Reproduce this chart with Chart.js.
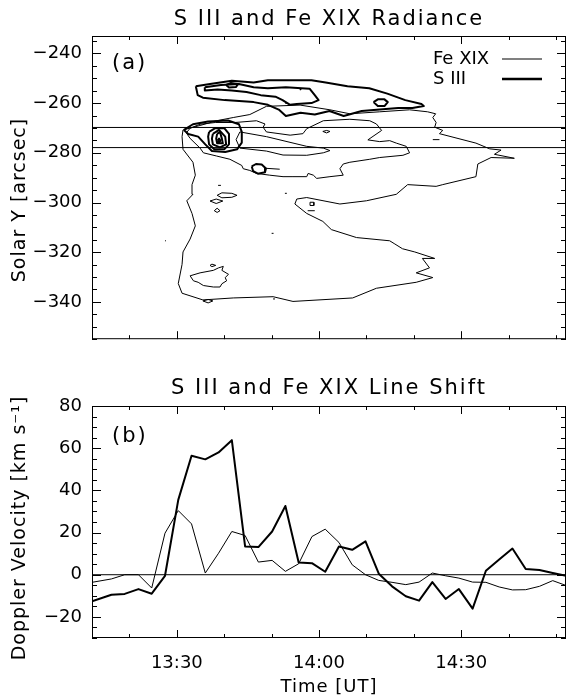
<!DOCTYPE html>
<html>
<head>
<meta charset="utf-8">
<script src="https://cdn.jsdelivr.net/npm/chart.js@4.4.1/dist/chart.umd.min.js"></script>
<style>
  html, body { margin: 0; padding: 0; background: #fff; }
  #wrap { position: relative; width: 567px; height: 700px; }
  canvas { position: absolute; left: 0; }
</style>
</head>
<body>
<div id="wrap">
  <canvas id="radiance" width="567" height="360" style="top:0"></canvas>
  <canvas id="lineShift" width="567" height="340" style="top:360px"></canvas>
</div>
<script>
// time is in minutes after 13:00 UT
const timeRange = [12.1, 112.1];
const solarYRange = [-355, -233];
const velocityRange = [-30, 80];

// panel (b): Doppler velocity, km/s
const times = [12.1, 16.2, 19.0, 21.9, 24.7, 27.5, 30.3, 33.1, 36.0, 38.8, 41.6, 44.4,
  47.2, 50.1, 52.9, 55.7, 58.5, 61.3, 64.2, 67.0, 69.8, 72.6, 75.4, 78.3,
  81.1, 83.9, 86.7, 89.5, 92.4, 95.2, 98.0, 100.8, 103.6, 106.5, 109.3, 112.1];
const sIIIVelocity = [-12.6, -9.5, -9.1, -6.8, -9.0, -0.5, 35.5, 56.4, 54.7, 58.0, 63.8, 13.4,
  13.1, 20.5, 32.6, 5.8, 5.5, 1.4, 13.4, 11.8, 15.8, 0.5, -5.5, -10.2,
  -12.3, -3.5, -11.5, -6.8, -16.1, 1.9, 7.2, 12.4, 2.7, 2.2, 0.8, -0.5];
const feXIXVelocity = [-3.6, -2.0, 0, 0, -6.3, 19.7, 30.4, 24.1, 0.8, 10.2, 20.5, 18.6,
  6.0, 6.8, 1.6, 5.2, 18.1, 21.6, 15.3, 4.7, 0, -2.7, -3.6, -4.7,
  -3.5, 0.8, -0.5, -1.6, -3.5, -3.6, -5.8, -7.2, -7.1, -5.5, -2.8, -5.1];

// panel (a): slit edges, arcsec
const slitLines = [-269.8, -277.9];

// panel (a): Fe XIX radiance contours, [time, solar Y]
const feContours = [
  [[31.3,-270.8],[34.9,-269.0],[38.4,-267.1],[41.9,-265.8],[45.4,-264.6],[48.9,-261.3],[56.0,-260.8],
   [62.3,-262.7],[66.5,-264.3],[72.8,-263.5],[79.1,-262.7],[82.9,-263.5],[84.6,-264.3],[84.0,-265.8],
   [84.7,-267.8],[84.4,-269.7],[86.1,-271.0],[85.4,-272.3],[93.1,-276.1],[96.0,-278.4],[98.4,-278.9],
   [97.0,-280.6],[101.2,-282.2],[96.3,-281.9],[93.5,-284.5],[93.1,-289.6],[86.1,-292.8],[84.7,-293.5],
   [78.7,-292.8],[76.3,-296.7],[70.0,-299.3],[64.4,-300.6],[57.4,-298.0],[55.3,-298.6],[54.9,-300.6],
   [57.4,-304.4],[60.8,-307.6],[62.6,-310.9],[67.9,-314.1],[74.9,-315.4],[76.0,-316.7],[77.6,-318.6],
   [80.2,-319.9],[84.4,-322.5],[81.8,-322.5],[83.3,-326.3],[80.5,-328.3],[84.0,-330.2],[80.5,-332.1],
   [72.1,-334.5],[67.1,-338.4],[54.5,-339.8],[50.3,-337.9],[41.9,-338.4],[35.5,-339.2],[31.1,-336.5],
   [30.3,-332.6],[31.1,-324.9],[31.3,-319.9],[32.8,-314.7],[33.9,-309.4],[33.2,-304.4],[32.1,-299.3],
   [33.4,-296.7],[33.2,-292.8],[33.9,-289.0],[33.4,-283.8],[31.3,-278.6],[31.1,-273.5],[31.3,-270.8]],
  [[46.8,-267.1],[48.6,-268.4],[48.2,-269.7],[48.9,-271.6],[53.9,-272.9],[56.6,-272.3],[57.4,-270.3],
   [60.9,-267.1],[66.5,-266.5],[70.7,-267.1],[72.1,-268.4],[73.2,-271.0],[70.3,-274.8],[72.8,-275.5],
   [74.9,-275.1],[76.3,-276.1],[78.4,-277.4],[79.1,-280.0],[77.7,-281.0],[72.8,-281.9],[70.7,-282.6],
   [66.5,-283.8],[65.1,-284.5],[64.4,-286.4],[65.1,-289.0],[62.3,-289.6],[59.5,-290.3],[58.8,-289.0],
   [57.7,-288.3],[57.4,-289.6],[54.5,-289.6],[52.4,-289.6],[49.6,-289.0],[46.8,-288.3],[45.4,-287.1],
   [44.0,-286.4],[43.7,-285.1],[41.2,-282.6],[38.4,-281.3],[35.6,-280.0],[34.9,-278.1],[32.8,-274.2],
   [32.0,-272.0],[32.8,-270.1],[34.9,-268.5],[38.1,-267.8],[42.3,-267.8],[46.8,-267.1]],
  [[43.3,-271.6],[48.9,-273.5],[57.4,-277.4],[60.9,-278.1],[62.3,-279.1],[60.9,-280.0],[57.4,-281.0],
   [52.4,-280.9],[48.9,-279.3],[43.3,-278.1],[42.5,-274.7],[43.3,-271.6]],
  [[32.8,-329.5],[34.9,-328.3],[37.7,-327.3],[38.8,-326.3],[39.8,-325.7],[39.5,-327.3],[40.9,-328.9],
   [40.2,-330.2],[40.5,-331.5],[39.5,-332.7],[39.1,-334.0],[37.7,-334.0],[35.6,-333.4],[34.5,-332.1],
   [33.5,-331.5],[32.8,-329.5]],
  [[37.0,-325.3],[37.4,-324.8],[38.2,-325.3],[37.4,-325.8],[37.0,-325.3]],
  [[38.5,-297.1],[39.5,-296.1],[41.6,-296.3],[42.7,-297.1],[41.6,-297.9],[39.5,-298.1],[38.5,-297.1]],
  [[37.0,-299.4],[38.3,-298.6],[39.7,-299.4],[38.3,-300.4],[37.0,-299.4]],
  [[37.9,-303.3],[38.5,-302.3],[39.1,-303.3],[38.5,-304.0],[37.9,-303.3]],
  [[38.7,-293.1],[39.3,-293.1]],
  [[58.1,-299.9],[58.9,-299.9],[58.9,-301.2],[58.1,-301.2],[58.1,-299.9]],
  [[57.6,-303.3],[59.1,-303.3]],
  [[52.8,-296.3],[53.2,-296.3]],
  [[50.0,-312.4],[50.4,-312.4]],
  [[27.5,-315.4],[27.7,-315.4]],
  [[60.8,-271.4],[61.6,-271.0],[62.3,-271.4],[61.6,-272.0],[60.8,-271.4]],
  [[84.0,-274.7],[85.4,-274.7]],
  [[35.5,-339.6],[36.6,-339.0],[37.6,-339.6],[36.6,-340.4],[35.5,-339.6]],
  [[50.3,-338.8],[50.7,-338.8]],
  [[48.5,-286.2],[51.7,-286.6]]
];

// panel (a): S III radiance contours, [time, solar Y]
const sIIIContours = [
  [[34.0,-253.2],[37.0,-252.3],[41.6,-251.0],[46.2,-251.7],[49.2,-250.8],[53.9,-250.8],[58.4,-250.8],
   [61.4,-251.7],[66.0,-253.2],[70.6,-254.0],[74.4,-256.2],[78.2,-258.8],[81.6,-260.4],[82.1,-261.2],
   [79.7,-262.0],[76.7,-262.0],[72.8,-262.6],[69.0,-263.2],[65.2,-265.2],[62.2,-263.2],[59.1,-264.6],
   [56.1,-263.9],[53.0,-265.2],[51.5,-262.6],[49.2,-260.7],[46.2,-259.6],[40.1,-258.8],[35.5,-257.8],
   [34.4,-256.8],[34.0,-253.2]],
  [[35.9,-253.6],[39.3,-252.7],[43.1,-252.3],[46.2,-253.6],[49.2,-254.0],[53.0,-253.6],[58.0,-254.2],
   [59.1,-256.8],[59.9,-258.8],[58.4,-260.0],[55.3,-260.4],[53.9,-260.7],[52.3,-258.8],[50.8,-257.4],
   [47.7,-256.8],[44.7,-255.5],[41.6,-254.9],[38.6,-254.5],[35.9,-254.9],[35.9,-253.6]],
  [[40.4,-252.7],[41.4,-251.9],[42.9,-252.3],[42.5,-253.5],[41.0,-253.7],[40.4,-252.7]],
  [[56.0,-254.3],[56.2,-254.7]],
  [[52.9,-260.0],[53.2,-260.0]],
  [[71.5,-259.6],[72.4,-258.5],[73.8,-258.5],[74.5,-259.6],[73.8,-261.2],[72.4,-261.2],[71.5,-259.6]],
  [[31.5,-270.8],[33.4,-268.5],[36.6,-267.4],[40.8,-267.0],[43.1,-268.5],[43.7,-271.6],[43.7,-275.9],
   [42.7,-278.6],[40.2,-279.7],[37.4,-279.3],[36.0,-276.6],[34.5,-273.5],[32.4,-272.4],[31.5,-270.8]],
  [[36.8,-271.6],[38.1,-270.1],[40.0,-270.1],[41.0,-272.4],[41.0,-276.6],[40.0,-278.6],[37.9,-278.6],
   [36.8,-276.6],[36.6,-273.5],[36.8,-271.6]],
  [[37.6,-272.4],[38.9,-270.8],[40.2,-273.5],[40.4,-276.6],[39.1,-277.8],[37.6,-276.6],[37.4,-274.3],[37.6,-272.4]],
  [[38.5,-272.4],[39.1,-271.6],[39.5,-274.3],[39.7,-276.2],[38.5,-276.2],[38.3,-274.3],[38.5,-272.4]],
  [[38.6,-275.1],[38.9,-274.3],[39.2,-275.1],[38.9,-275.9],[38.6,-275.1]],
  [[45.8,-285.5],[46.7,-284.5],[47.9,-284.7],[48.8,-286.3],[48.6,-287.8],[47.1,-288.4],[46.1,-287.4],[45.8,-285.5]]
];

Chart.defaults.font.family = '"DejaVu Sans", sans-serif';
Chart.defaults.color = '#000';

const minusSign = v => String(v).replace('-', '\u2212');
const clock = v => { const m = 13 * 60 + v; return Math.floor(m / 60) + ':' + String(m % 60).padStart(2, '0'); };

const lineSet = (pts, width) => ({
  data: pts.map(([x, y]) => ({x, y})),
  showLine: true, borderColor: '#000', borderWidth: width,
  pointRadius: 0, fill: false, tension: 0, borderJoinStyle: 'round'
});

// box with inward ticks on all four sides, IDL style
const frameTicks = {
  id: 'frameTicks',
  afterDatasetsDraw(chart, args, o) {
    const {ctx, chartArea: a} = chart;
    const x = chart.scales.x, y = chart.scales.y;
    ctx.save();
    ctx.strokeStyle = '#000';
    ctx.lineWidth = 1;
    ctx.strokeRect(a.left + 0.5, a.top + 0.5, a.right - a.left - 1, a.bottom - a.top - 1);
    ctx.beginPath();
    for (let v = Math.ceil(x.min / o.xMinor) * o.xMinor; v <= x.max; v += o.xMinor) {
      const p = Math.round(x.getPixelForValue(v)) + 0.5;
      const len = v % o.xMajor === 0 ? 8 : 4;
      ctx.moveTo(p, a.bottom); ctx.lineTo(p, a.bottom - len);
      ctx.moveTo(p, a.top); ctx.lineTo(p, a.top + len);
    }
    for (let v = Math.ceil(y.min / o.yMinor) * o.yMinor; v <= y.max; v += o.yMinor) {
      const p = Math.round(y.getPixelForValue(v)) + 0.5;
      const len = v % o.yMajor === 0 ? 9 : 5;
      ctx.moveTo(a.left, p); ctx.lineTo(a.left + len, p);
      ctx.moveTo(a.right, p); ctx.lineTo(a.right - len, p);
    }
    ctx.stroke();
    ctx.restore();
  }
};

const annotate = {
  id: 'annotate',
  afterDraw(chart, args, o) {
    const {ctx, chartArea: a} = chart;
    const cx = (a.left + a.right) / 2;
    ctx.save();
    ctx.fillStyle = '#000';
    ctx.textBaseline = 'middle';
    ctx.font = '21px "DejaVu Sans"';
    ctx.letterSpacing = '2px';
    ctx.textAlign = 'center';
    ctx.fillText(o.title, cx, o.titleY);
    ctx.textAlign = 'left';
    ctx.fillText(o.tag, a.left + 20, o.tagY);
    ctx.font = '19px "DejaVu Sans"';
    ctx.letterSpacing = '1px';
    ctx.save();
    ctx.translate(20, o.yTitleY);
    ctx.rotate(-Math.PI / 2);
    ctx.textAlign = 'center';
    ctx.fillText(o.yTitle, 0, 0);
    ctx.restore();
    if (o.xTitle) {
      ctx.font = '18px "DejaVu Sans"';
      ctx.textAlign = 'center';
      ctx.fillText(o.xTitle, cx, o.xTitleY);
    }
    ctx.font = '18px "DejaVu Sans"';
    ctx.letterSpacing = '0px';
    (o.legend || []).forEach(item => {
      ctx.textAlign = 'left';
      ctx.fillText(item.label, a.right - 133, item.y);
      ctx.beginPath();
      ctx.strokeStyle = item.color;
      ctx.lineWidth = item.width;
      ctx.moveTo(a.right - 64, item.y);
      ctx.lineTo(a.right - 24, item.y);
      ctx.stroke();
    });
    ctx.restore();
  }
};

const tickFont = {size: 18};

new Chart(document.getElementById('radiance'), {
  type: 'scatter',
  data: {
    datasets: [
      ...feContours.map(c => lineSet(c, 1)),
      ...sIIIContours.map(c => lineSet(c, 2)),
      ...slitLines.map(v => lineSet([[timeRange[0], v], [timeRange[1], v]], 1))
    ]
  },
  options: {
    responsive: false,
    animation: false,
    events: [],
    layout: {padding: {top: 36, right: 1, bottom: 9, left: 0}},
    plugins: {
      legend: {display: false},
      tooltip: {enabled: false},
      frameTicks: {xMinor: 10, xMajor: 30, yMinor: 5, yMajor: 20},
      annotate: {
        title: 'S III and Fe XIX Radiance', titleY: 20,
        tag: '(a)', tagY: 64,
        yTitle: 'Solar Y [arcsec]', yTitleY: 200,
        legend: [
          {label: 'Fe XIX', y: 59, color: '#808080', width: 2},
          {label: 'S III', y: 79, color: '#000', width: 2.5}
        ]
      }
    },
    scales: {
      x: {
        type: 'linear', min: timeRange[0], max: timeRange[1],
        ticks: {display: false},
        grid: {display: false, drawTicks: false},
        border: {display: false},
        afterFit: s => { s.height = 0; }
      },
      y: {
        type: 'linear', min: solarYRange[0], max: solarYRange[1],
        ticks: {stepSize: 20, includeBounds: false, padding: 10, font: tickFont, callback: minusSign},
        grid: {display: false, drawTicks: false},
        border: {display: false},
        afterFit: s => { s.width = 92; }
      }
    }
  },
  plugins: [frameTicks, annotate]
});

new Chart(document.getElementById('lineShift'), {
  type: 'scatter',
  data: {
    datasets: [
      lineSet([[timeRange[0], 0], [timeRange[1], 0]], 1),
      lineSet(times.map((t, i) => [t, feXIXVelocity[i]]), 1),
      lineSet(times.map((t, i) => [t, sIIIVelocity[i]]), 2)
    ]
  },
  options: {
    responsive: false,
    animation: false,
    events: [],
    layout: {padding: {top: 46, right: 1, bottom: 0, left: 0}},
    plugins: {
      legend: {display: false},
      tooltip: {enabled: false},
      frameTicks: {xMinor: 10, xMajor: 30, yMinor: 5, yMajor: 20},
      annotate: {
        title: 'S III and Fe XIX Line Shift', titleY: 29,
        tag: '(b)', tagY: 77,
        yTitle: 'Doppler Velocity [km s\u207B\u00B9]', yTitleY: 168,
        xTitle: 'Time [UT]', xTitleY: 327
      }
    },
    scales: {
      x: {
        type: 'linear', min: timeRange[0], max: timeRange[1],
        ticks: {stepSize: 30, includeBounds: false, padding: 15, font: tickFont, maxRotation: 0, callback: clock},
        grid: {display: false, drawTicks: false},
        border: {display: false},
        afterFit: s => { s.height = 62; }
      },
      y: {
        type: 'linear', min: velocityRange[0], max: velocityRange[1],
        ticks: {stepSize: 20, includeBounds: false, padding: 10, font: tickFont, callback: minusSign},
        grid: {display: false, drawTicks: false},
        border: {display: false},
        afterFit: s => { s.width = 92; }
      }
    }
  },
  plugins: [frameTicks, annotate]
});
</script>
</body>
</html>
